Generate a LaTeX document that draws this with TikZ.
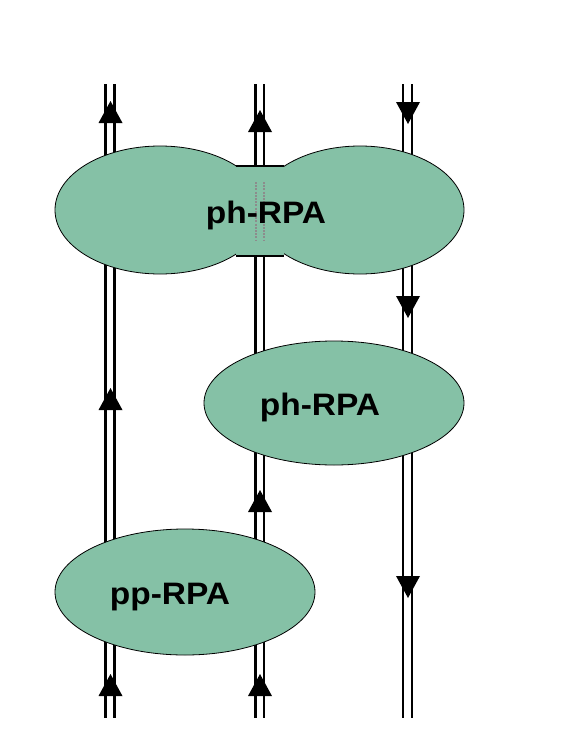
\documentclass[tikz,border=0pt]{standalone}
\usepackage{fontspec}
\newfontfamily\lblfont[FakeStretch=1.08]{Liberation Sans}
\usetikzlibrary{shapes.geometric}
\definecolor{rpagreen}{RGB}{133,193,166}
\definecolor{dotgray}{RGB}{140,140,140}
\begin{document}
\begin{tikzpicture}[x=1pt,y=-1pt,
  wire/.style={line width=2.2pt, black},
  blob/.style={ellipse, draw=black, line width=0.8pt, fill=rpagreen, inner sep=0pt},
  neckline/.style={line width=1.8pt, black},
  dotline/.style={line width=2pt, dotgray, dash pattern=on 2pt off 1.2pt},
  lbl/.style={font=\lblfont\bfseries\fontsize{31}{37}\selectfont, anchor=base, inner sep=0pt},
  uphead/.pic={\fill[black] (0,-11) -- (12,11) -- (-12,11) -- cycle;},
  downhead/.pic={\fill[black] (0,11) -- (12,-11) -- (-12,-11) -- cycle;}
]
\useasboundingbox (0,0) rectangle (581,752);
% double lines
\foreach \n/\x in {La/105.5, Lb/114.5, Ma/255.5, Mb/264, Ra/403.3, Rb/412.2} {
  \coordinate (\n-top) at (\x,84);
  \coordinate (\n-bot) at (\x,718);
  \draw[wire] (\n-top) -- (\n-bot);
}
% arrowheads
\pic at (110.5,112) {uphead};
\pic at (110.5,399) {uphead};
\pic at (110.5,685) {uphead};
\pic at (260,121) {uphead};
\pic at (260,501) {uphead};
\pic at (260,685) {uphead};
\pic at (408,113) {downhead};
\pic at (408,307) {downhead};
\pic at (408,587) {downhead};
% top double blob
\node[blob, minimum width=210pt, minimum height=128pt] (phL) at (160,210) {};
\node[blob, minimum width=208pt, minimum height=128pt] (phR) at (360,210) {};
\node[fill=rpagreen, inner sep=0pt, minimum width=48pt, minimum height=90pt] (neck) at (260,211) {};
\draw[neckline] (neck.north west) -- (neck.north east);
\draw[neckline] (neck.south west) -- (neck.south east);
\coordinate (d1t) at (256,182); \coordinate (d1b) at (256,240);
\coordinate (d2t) at (264,182); \coordinate (d2b) at (264,240);
\draw[dotline] (d1t) -- (d1b);
\draw[dotline] (d2t) -- (d2b);
% other blobs
\node[blob, minimum width=260pt, minimum height=124pt] (ph2) at (334,403) {};
\node[blob, minimum width=260pt, minimum height=126pt] (pp) at (185,592) {};
% labels
\node[lbl] (t1) at (266,223.3) {ph-RPA};
\node[lbl] (t2) at (320,415) {ph-RPA};
\node[lbl] (t3) at (170,604.3) {pp-RPA};
\end{tikzpicture}
\end{document}
